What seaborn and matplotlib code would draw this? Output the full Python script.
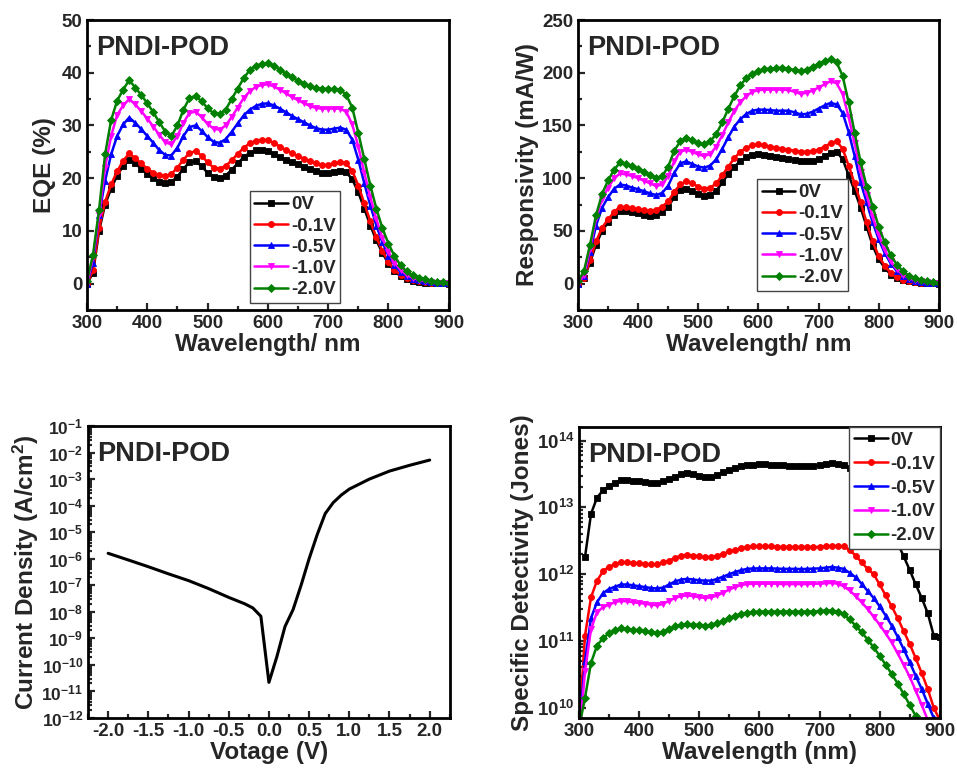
import numpy as np
import matplotlib
matplotlib.use("Agg")
import matplotlib.pyplot as plt
import matplotlib.ticker as mticker
import seaborn as sns

sns.set_style("ticks")
plt.rcParams['font.family'] = ['Liberation Sans', 'DejaVu Sans']
plt.rcParams['font.weight'] = 'bold'
plt.rcParams['axes.labelweight'] = 'bold'
plt.rcParams['axes.unicode_minus'] = False
plt.rcParams['mathtext.fontset'] = 'custom'
plt.rcParams['mathtext.rm'] = 'Liberation Sans:bold'
plt.rcParams['mathtext.bf'] = 'Liberation Sans:bold'
plt.rcParams['mathtext.it'] = 'Liberation Sans:bold:italic'
plt.rcParams['mathtext.default'] = 'rm'

# data
wavelength = np.arange(300, 901, 10)
biases = ['0V', '-0.1V', '-0.5V', '-1.0V', '-2.0V']
colors = ['black', '#FF0000', '#0000FF', '#FF00FF', '#008000']
markers = ['s', 'o', '^', 'v', 'D']

# EQE (%)
eqe_0 = [0, 2, 10, 15, 18, 20.5, 22.3, 23.5, 22.8, 21.8,
         20.8, 20, 19.3, 19, 19.3, 20.3, 21.8, 23, 23.2, 22.3,
         21, 20.2, 20, 20.5, 21.6, 22.8, 24, 24.8, 25.3, 25.4,
         25.1, 24.6, 24, 23.5, 23, 22.6, 22.2, 21.7, 21.3, 21,
         21, 21.2, 21.4, 21.1, 19.8, 17.3, 14.2, 11, 8.2, 5.8,
         3.8, 2.4, 1.4, 0.8, 0.5, 0.3, 0.2, 0.1, 0.05, 0.02,
         0]
eqe_01 = [0, 2.5, 10.5, 15.5, 18.8, 21.3, 23.3, 24.7, 23.8, 22.8,
          21.8, 21, 20.6, 20.4, 20.8, 22, 23.5, 24.8, 25.1, 24.3,
          23, 22, 21.8, 22.3, 23.4, 24.6, 25.8, 26.6, 27.1, 27.3,
          27.2, 26.7, 26, 25.3, 24.7, 24.2, 23.7, 23.2, 22.8, 22.5,
          22.5, 22.8, 23, 22.8, 21.4, 18.6, 15.2, 11.8, 8.8, 6.2,
          4.1, 2.6, 1.6, 1, 0.6, 0.4, 0.25, 0.15, 0.08, 0.04,
          0]
eqe_05 = [0, 4, 13, 19.5, 24.5, 28, 30.2, 31.5, 30.5, 29.3,
          28, 26.7, 25.3, 24.4, 24.3, 25.8, 28, 29.7, 30, 29,
          27.8, 26.9, 26.7, 27.4, 28.8, 30.4, 31.9, 33, 33.7, 34.1,
          34.2, 33.8, 33.2, 32.5, 31.8, 31.2, 30.6, 30, 29.5, 29.2,
          29.2, 29.4, 29.6, 29.2, 27.3, 23.5, 19, 14.8, 11, 7.8,
          5.3, 3.5, 2.2, 1.4, 0.9, 0.6, 0.4, 0.25, 0.15, 0.08,
          0.05]
eqe_10 = [0, 5, 13, 22, 28, 32, 33.8, 35, 34, 32.7,
          31.3, 29.8, 28.2, 26.8, 26.4, 28, 30.5, 32.4, 32.6, 31.6,
          30.3, 29.4, 29.2, 30, 31.6, 33.4, 35.2, 36.5, 37.3, 37.7,
          37.8, 37.4, 36.8, 36.1, 35.4, 34.8, 34.2, 33.7, 33.3, 33.2,
          33.2, 33.2, 33.2, 32.6, 30.2, 26, 21, 16.4, 12.2, 8.7,
          6, 4, 2.6, 1.7, 1.1, 0.7, 0.5, 0.3, 0.2, 0.1,
          0.05]
eqe_20 = [0.5, 5.5, 14, 24.5, 31, 34.7, 36.8, 38.6, 37.2, 35.8,
          34.2, 32.5, 30.6, 28.8, 28, 30, 33, 35.2, 35.6, 34.6,
          33.3, 32.3, 32.1, 33, 35, 37, 39, 40.5, 41.3, 41.7,
          41.8, 41.3, 40.6, 39.8, 39.1, 38.5, 37.9, 37.4, 37.1, 37,
          36.9, 36.9, 36.8, 35.8, 33.4, 28.6, 23.6, 18.6, 14.2, 10.5,
          7.6, 5.2, 3.5, 2.3, 1.6, 1.1, 0.8, 0.5, 0.35, 0.25,
          0.2]

# Responsivity (mA/W)
res_0 = [0, 5, 20, 37, 50, 58, 65, 69, 69, 68,
         67, 65.5, 64.5, 65, 68, 73, 82, 89, 90, 88,
         85, 83, 84, 88, 96, 104, 111, 116, 120, 122,
         122.5, 122, 121, 120, 119, 118, 117, 116, 116, 116.5,
         118, 121, 124, 125, 118, 103, 88, 72, 54, 36,
         23, 15, 8.5, 5, 3, 2, 1.2, 0.7, 0.4, 0.2,
         0]
res_01 = [0, 5, 22, 40, 53, 61, 68, 73, 72.5, 71.5,
          70.5, 69.5, 69, 70, 73, 78, 87, 94, 97, 95,
          92, 90, 91, 95, 103, 111, 119, 125, 129, 131,
          132, 131, 130, 129, 128, 127, 126, 125, 125, 125.5,
          127, 130, 133, 135, 128, 112, 95, 77, 58, 40,
          26, 17, 10, 6, 3.5, 2.2, 1.4, 0.8, 0.5, 0.3,
          0.1]
res_05 = [0, 7, 30, 55, 72, 82, 90, 94, 93, 91,
          89.5, 87.5, 85.5, 84, 86, 93, 105, 114, 116, 113.5,
          111, 110, 112, 118, 128, 139, 149, 156, 161, 164,
          165, 165, 164.5, 164, 164, 164, 162.5, 160.5, 161, 163,
          166, 169, 171.5, 170, 162, 144, 121, 96, 77, 58,
          42, 29, 19, 12, 7.5, 4.5, 2.8, 1.7, 1, 0.6,
          0.3]
res_10 = [0, 8, 33, 62, 80, 91, 100, 104.5, 103.5, 102,
          100, 97.5, 95, 92.5, 94, 102, 116, 125, 127, 125,
          122.5, 121, 123, 130, 141, 153, 164, 172, 178, 182,
          183.5, 184, 184, 184, 184, 183.5, 182, 180, 181, 183,
          186, 189, 192, 190, 180, 158, 133, 106, 84, 63,
          46, 32, 21, 13.5, 8.5, 5.2, 3.2, 2, 1.2, 0.7,
          0.4]
res_20 = [2, 12, 37, 65, 85, 98, 108, 115, 113, 111.5,
          109, 106, 103, 100, 102, 111, 126, 135, 138, 136,
          133, 132, 135, 142, 153, 166, 178, 188, 195, 199,
          202, 203.5, 204, 204.5, 204.7, 204, 202.5, 201.5, 203, 205.5,
          208, 211, 213, 210, 197, 172, 143, 115, 92, 73,
          54, 39, 27, 18, 12, 7.5, 5, 3, 2, 1.2,
          0.8]

# J-V curve
voltage = [-2.0, -1.75, -1.5, -1.25, -1.0, -0.75, -0.5, -0.3, -0.2, -0.1,
           0.0, 0.1, 0.2, 0.3, 0.4, 0.5, 0.6, 0.7, 0.8, 0.9,
           1.0, 1.25, 1.5, 1.75, 2.0]
current = [1.6e-6, 9e-7, 5e-7, 2.7e-7, 1.5e-7, 7.5e-8, 3.5e-8, 2e-8, 1.4e-8, 6.8e-9,
           2.2e-11, 2.1e-10, 2.8e-9, 1.2e-8, 1e-7, 1e-6, 8e-6, 5e-5, 1.3e-4, 2.5e-4,
           4.2e-4, 1e-3, 2e-3, 3.3e-3, 5.2e-3]

# Specific detectivity (Jones)
det_0 = [np.nan, 1.8e12, 8e12, 1.4e13, 1.8e13, 2.1e13, 2.35e13, 2.55e13, 2.55e13, 2.5e13,
         2.45e13, 2.4e13, 2.35e13, 2.35e13, 2.45e13, 2.65e13, 2.9e13, 3.15e13, 3.25e13, 3.15e13,
         3.0e13, 2.9e13, 2.9e13, 3.05e13, 3.35e13, 3.65e13, 3.9e13, 4.1e13, 4.25e13, 4.35e13,
         4.4e13, 4.4e13, 4.35e13, 4.3e13, 4.25e13, 4.2e13, 4.15e13, 4.1e13, 4.1e13, 4.15e13,
         4.25e13, 4.4e13, 4.55e13, 4.5e13, 4.3e13, 3.9e13, 3.2e13, 2.5e13, 1.85e13, 1.35e13,
         9.5e12, 6.5e12, 4.4e12, 2.9e12, 1.85e12, 1.15e12, 7e11, 4.4e11, 2.6e11, 1.2e11,
         1.15e11]
det_01 = [5e9, 1.2e11, 4.5e11, 8e11, 1.1e12, 1.3e12, 1.4e12, 1.5e12, 1.5e12, 1.45e12,
          1.45e12, 1.4e12, 1.4e12, 1.4e12, 1.5e12, 1.6e12, 1.75e12, 1.9e12, 1.95e12, 1.9e12,
          1.85e12, 1.8e12, 1.8e12, 1.9e12, 2.0e12, 2.2e12, 2.3e12, 2.45e12, 2.55e12, 2.6e12,
          2.6e12, 2.6e12, 2.6e12, 2.55e12, 2.55e12, 2.55e12, 2.55e12, 2.55e12, 2.55e12, 2.55e12,
          2.55e12, 2.6e12, 2.65e12, 2.65e12, 2.6e12, 2.3e12, 1.9e12, 1.5e12, 1.2e12, 1.0e12,
          7e11, 4.8e11, 3.3e11, 2.2e11, 1.4e11, 9e10, 5.5e10, 3.3e10, 1.9e10, 1e10,
          6.5e9]
det_05 = [4e9, 5e10, 2.2e11, 3.8e11, 5.2e11, 6e11, 6.5e11, 7e11, 7e11, 6.8e11,
          6.6e11, 6.4e11, 6.2e11, 6.1e11, 6.3e11, 7e11, 7.8e11, 8.3e11, 8.5e11, 8.3e11,
          8.1e11, 8e11, 8e11, 8.5e11, 9.2e11, 1.0e12, 1.08e12, 1.15e12, 1.2e12, 1.22e12,
          1.22e12, 1.22e12, 1.22e12, 1.21e12, 1.2e12, 1.2e12, 1.2e12, 1.19e12, 1.2e12, 1.21e12,
          1.22e12, 1.25e12, 1.28e12, 1.25e12, 1.2e12, 1.05e12, 9e11, 7.2e11, 5.6e11, 4.4e11,
          3.3e11, 2.4e11, 1.7e11, 1.15e11, 7.5e10, 4.8e10, 3e10, 1.9e10, 1.15e10, 7e9,
          4e9]
det_10 = [3e9, 3.5e10, 1.5e11, 2.7e11, 3.2e11, 3.5e11, 3.8e11, 4e11, 3.9e11, 3.8e11,
          3.7e11, 3.6e11, 3.5e11, 3.4e11, 3.6e11, 4e11, 4.4e11, 4.7e11, 4.8e11, 4.7e11,
          4.5e11, 4.4e11, 4.5e11, 4.8e11, 5.3e11, 5.9e11, 6.4e11, 6.9e11, 7.1e11, 7.2e11,
          7.2e11, 7.2e11, 7.2e11, 7.2e11, 7.1e11, 7.1e11, 7.1e11, 7.1e11, 7.1e11, 7.2e11,
          7.2e11, 7.3e11, 7.4e11, 7.2e11, 6.6e11, 5.7e11, 4.7e11, 3.8e11, 3e11, 2.3e11,
          1.75e11, 1.3e11, 9.5e10, 6.5e10, 4.4e10, 2.9e10, 1.8e10, 1.1e10, 6.5e9, 4e9,
          2.5e9]
det_20 = [5e9, 1.4e10, 4.7e10, 8.5e10, 1.1e11, 1.3e11, 1.45e11, 1.55e11, 1.5e11, 1.45e11,
          1.45e11, 1.4e11, 1.35e11, 1.3e11, 1.35e11, 1.5e11, 1.65e11, 1.75e11, 1.8e11, 1.75e11,
          1.75e11, 1.7e11, 1.75e11, 1.85e11, 2.0e11, 2.2e11, 2.4e11, 2.55e11, 2.65e11, 2.7e11,
          2.75e11, 2.75e11, 2.75e11, 2.75e11, 2.75e11, 2.75e11, 2.75e11, 2.75e11, 2.75e11, 2.75e11,
          2.8e11, 2.85e11, 2.85e11, 2.75e11, 2.5e11, 2.1e11, 1.7e11, 1.35e11, 1.05e11, 8e10,
          6e10, 4.4e10, 3.2e10, 2.3e10, 1.6e10, 1.1e10, 7.5e9, 5e9, 3.3e9, 2e9,
          1.3e9]

eqe_all = [eqe_0, eqe_01, eqe_05, eqe_10, eqe_20]
res_all = [res_0, res_01, res_05, res_10, res_20]
det_all = [det_0, det_01, det_05, det_10, det_20]

TICK_FS = 13.5
LABEL_FS = 17.5
TAG_FS = 19.5
LEG_FS = 13.5


def style_axes(ax):
    for sp in ax.spines.values():
        sp.set_visible(True)
        sp.set_linewidth(2.0)
        sp.set_color('black')
    ax.tick_params(which='both', direction='in', top=False, right=False,
                   labelsize=TICK_FS, width=1.6)
    ax.tick_params(which='major', length=5)
    ax.tick_params(which='minor', length=3)
    for lab in ax.get_xticklabels() + ax.get_yticklabels():
        lab.set_fontweight('bold')
    ax.text(0.026, 0.905, 'PNDI-POD', transform=ax.transAxes, fontsize=TAG_FS,
            fontweight='bold', va='center', ha='left')


def spectra(ax, series):
    for vals, lab, c, m in zip(series, biases, colors, markers):
        sns.lineplot(x=wavelength, y=vals, ax=ax, color=c, marker=m, label=lab,
                     linewidth=1.8, markersize=4.3, markeredgewidth=0.6,
                     markeredgecolor=c, sort=False)
    ax.set_xlim(300, 900)
    ax.xaxis.set_major_locator(mticker.MultipleLocator(100))
    ax.xaxis.set_minor_locator(mticker.MultipleLocator(50))


fig = plt.figure(figsize=(9.57, 7.71), dpi=100)
ax1 = fig.add_axes([0.0909, 0.598, 0.378, 0.376])
ax2 = fig.add_axes([0.604, 0.598, 0.377, 0.376])
ax3 = fig.add_axes([0.092, 0.0687, 0.378, 0.3788])
ax4 = fig.add_axes([0.605, 0.0687, 0.377, 0.3775])

leg_kw = dict(fontsize=LEG_FS, frameon=True, fancybox=False, framealpha=1,
              edgecolor='#444444', handlelength=1.8, handletextpad=0.15,
              borderpad=0.25, borderaxespad=0.0)

# EQE
spectra(ax1, eqe_all)
ax1.set_ylim(-5, 50)
ax1.yaxis.set_major_locator(mticker.FixedLocator([0, 10, 20, 30, 40, 50]))
ax1.yaxis.set_minor_locator(mticker.MultipleLocator(5))
ax1.set_xlabel('Wavelength/ nm', fontsize=LABEL_FS, fontweight='bold', labelpad=1)
ax1.set_ylabel('EQE (%)', fontsize=LABEL_FS, fontweight='bold', labelpad=4)
lg = ax1.legend(loc='lower left', bbox_to_anchor=(0.45, 0.024), labelspacing=0.22, **leg_kw)
lg.get_frame().set_linewidth(1.0)
style_axes(ax1)

# Responsivity
spectra(ax2, res_all)
ax2.set_ylim(-25, 250)
ax2.yaxis.set_major_locator(mticker.FixedLocator([0, 50, 100, 150, 200, 250]))
ax2.yaxis.set_minor_locator(mticker.MultipleLocator(25))
ax2.set_xlabel('Wavelength/ nm', fontsize=LABEL_FS, fontweight='bold', labelpad=1)
ax2.set_ylabel('Responsivity (mA/W)', fontsize=LABEL_FS, fontweight='bold', labelpad=2)
lg = ax2.legend(loc='lower left', bbox_to_anchor=(0.496, 0.066), labelspacing=0.22, **leg_kw)
lg.get_frame().set_linewidth(1.0)
style_axes(ax2)

# J-V
sns.lineplot(x=voltage, y=current, ax=ax3, color='black', linewidth=2.2, sort=False)
ax3.set_yscale('log')
ax3.set_ylim(1e-12, 1e-1)
ax3.set_xlim(-2.25, 2.25)
ax3.yaxis.set_major_locator(mticker.LogLocator(base=10, numticks=20))
ax3.yaxis.set_minor_locator(mticker.LogLocator(base=10, subs=np.arange(2, 10), numticks=20))
ax3.yaxis.set_minor_formatter(mticker.NullFormatter())
ax3.xaxis.set_major_locator(mticker.MultipleLocator(0.5))
ax3.xaxis.set_minor_locator(mticker.MultipleLocator(0.25))
ax3.xaxis.set_major_formatter(mticker.FormatStrFormatter('%.1f'))
ax3.set_xlabel('Votage (V)', fontsize=LABEL_FS, fontweight='bold', labelpad=1)
ax3.set_ylabel('Current Density (A/cm$^2$)', fontsize=LABEL_FS, fontweight='bold', labelpad=0)
style_axes(ax3)
ax3.tick_params(axis='y', labelsize=12.5)

# Detectivity
spectra(ax4, det_all)
ax4.set_yscale('log')
ax4.set_ylim(7e9, 1.6e14)
ax4.yaxis.set_major_locator(mticker.LogLocator(base=10, numticks=10))
ax4.yaxis.set_minor_locator(mticker.LogLocator(base=10, subs=np.arange(2, 10), numticks=10))
ax4.yaxis.set_minor_formatter(mticker.NullFormatter())
ax4.set_xlabel('Wavelength (nm)', fontsize=LABEL_FS, fontweight='bold', labelpad=1)
ax4.set_ylabel('Specific Detectivity (Jones)', fontsize=LABEL_FS, fontweight='bold', labelpad=2)
lg = ax4.legend(loc='upper right', bbox_to_anchor=(1.0, 1.0), labelspacing=0.36, **leg_kw)
lg.get_frame().set_linewidth(1.0)
style_axes(ax4)

fig.savefig('out.png', dpi=100)
